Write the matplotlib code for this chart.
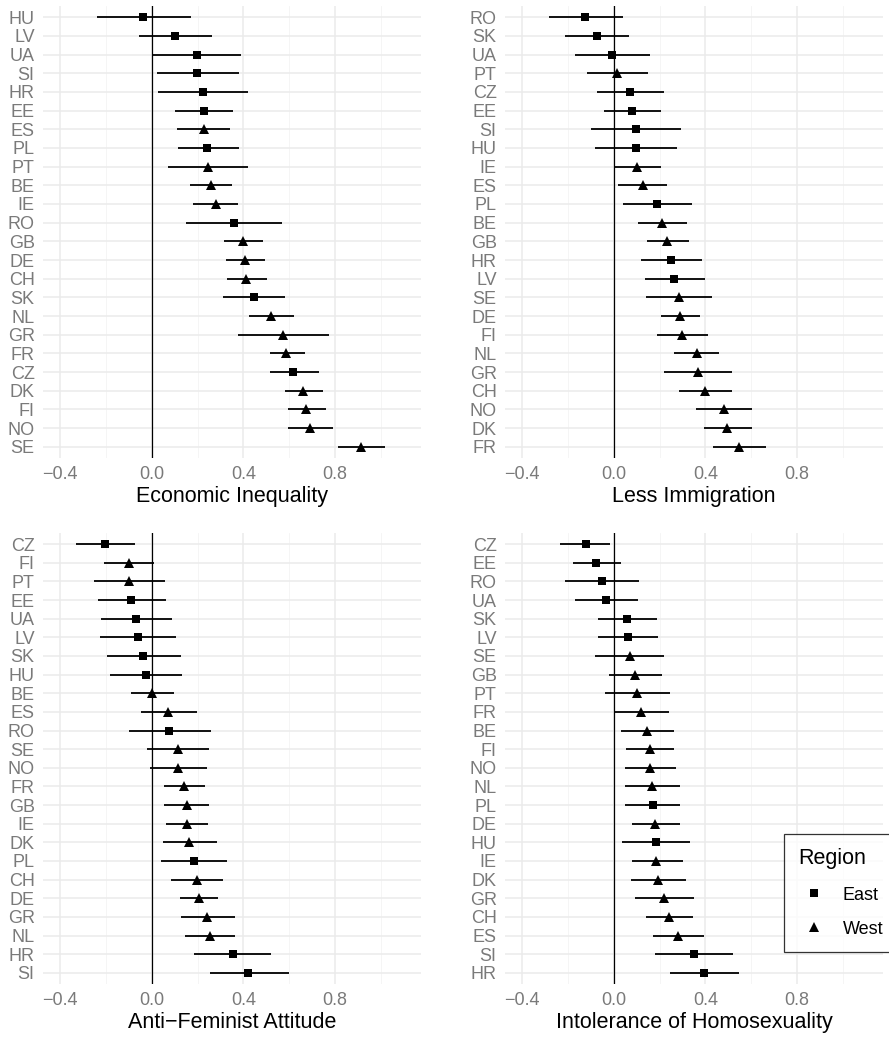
import matplotlib
matplotlib.use("Agg")
import matplotlib.pyplot as plt
from matplotlib.lines import Line2D
from matplotlib.ticker import MultipleLocator

plt.rcParams['font.family'] = ['Liberation Sans', 'DejaVu Sans']

EAST = ["HU", "LV", "UA", "SI", "HR", "EE", "PL", "RO", "SK", "CZ"]

# Panel 1: Economic Inequality
econ_countries = ["HU", "LV", "UA", "SI", "HR", "EE", "ES", "PL", "PT", "BE", "IE", "RO",
                  "GB", "DE", "CH", "SK", "NL", "GR", "FR", "CZ", "DK", "FI", "NO", "SE"]
econ_est = [-0.038, 0.100, 0.197, 0.197, 0.222, 0.228, 0.226, 0.243, 0.246, 0.257, 0.278, 0.358,
            0.400, 0.406, 0.412, 0.445, 0.520, 0.572, 0.587, 0.617, 0.662, 0.674, 0.690, 0.912]
econ_lo = [-0.241, -0.058, 0.006, 0.022, 0.026, 0.103, 0.112, 0.113, 0.072, 0.168, 0.181, 0.151,
           0.316, 0.325, 0.328, 0.312, 0.423, 0.377, 0.514, 0.514, 0.581, 0.594, 0.594, 0.812]
econ_hi = [0.170, 0.264, 0.390, 0.380, 0.420, 0.354, 0.343, 0.381, 0.422, 0.352, 0.378, 0.567,
           0.486, 0.494, 0.504, 0.580, 0.620, 0.774, 0.667, 0.729, 0.748, 0.759, 0.791, 1.016]

# Panel 2: Less Immigration
immi_countries = ["RO", "SK", "UA", "PT", "CZ", "EE", "SI", "HU", "IE", "ES", "PL", "BE",
                  "GB", "HR", "LV", "SE", "DE", "FI", "NL", "GR", "CH", "NO", "DK", "FR"]
immi_est = [-0.127, -0.074, -0.009, 0.015, 0.070, 0.079, 0.096, 0.096, 0.103, 0.127, 0.188, 0.209,
            0.234, 0.249, 0.262, 0.285, 0.289, 0.298, 0.361, 0.368, 0.399, 0.479, 0.496, 0.547]
immi_lo = [-0.282, -0.212, -0.169, -0.116, -0.073, -0.042, -0.100, -0.081, 0.006, 0.019, 0.038, 0.106,
           0.145, 0.119, 0.135, 0.141, 0.204, 0.189, 0.263, 0.218, 0.285, 0.359, 0.393, 0.433]
immi_hi = [0.038, 0.067, 0.159, 0.150, 0.217, 0.205, 0.292, 0.276, 0.204, 0.234, 0.340, 0.319,
           0.327, 0.387, 0.396, 0.429, 0.377, 0.413, 0.461, 0.518, 0.518, 0.602, 0.604, 0.666]

# Panel 3: Anti-Feminist Attitude
fem_countries = ["CZ", "FI", "PT", "EE", "UA", "LV", "SK", "HU", "BE", "ES", "RO", "SE",
                 "NO", "FR", "GB", "IE", "DK", "PL", "CH", "DE", "GR", "NL", "HR", "SI"]
fem_est = [-0.203, -0.101, -0.100, -0.090, -0.068, -0.059, -0.038, -0.025, 0.000, 0.072, 0.075, 0.114,
           0.114, 0.139, 0.152, 0.155, 0.164, 0.183, 0.197, 0.204, 0.242, 0.254, 0.354, 0.422]
fem_lo = [-0.332, -0.210, -0.254, -0.236, -0.223, -0.225, -0.196, -0.181, -0.093, -0.049, -0.101, -0.019,
          -0.006, 0.051, 0.055, 0.062, 0.048, 0.039, 0.084, 0.123, 0.128, 0.145, 0.186, 0.255]
fem_hi = [-0.074, 0.010, 0.058, 0.062, 0.090, 0.104, 0.126, 0.133, 0.096, 0.196, 0.257, 0.249,
          0.239, 0.232, 0.249, 0.245, 0.283, 0.330, 0.309, 0.288, 0.361, 0.365, 0.520, 0.597]

# Panel 4: Intolerance of Homosexuality
homo_countries = ["CZ", "EE", "RO", "UA", "SK", "LV", "SE", "GB", "PT", "FR", "BE", "FI",
                  "NO", "NL", "PL", "DE", "HU", "IE", "DK", "GR", "CH", "ES", "SI", "HR"]
homo_est = [-0.122, -0.076, -0.052, -0.035, 0.057, 0.061, 0.070, 0.092, 0.102, 0.119, 0.144, 0.157,
            0.159, 0.167, 0.170, 0.179, 0.183, 0.186, 0.195, 0.218, 0.241, 0.281, 0.348, 0.393]
homo_lo = [-0.233, -0.176, -0.211, -0.169, -0.068, -0.071, -0.080, -0.020, -0.038, 0.000, 0.033, 0.052,
           0.048, 0.049, 0.049, 0.079, 0.036, 0.079, 0.076, 0.092, 0.141, 0.169, 0.180, 0.247]
homo_hi = [-0.015, 0.031, 0.108, 0.105, 0.189, 0.195, 0.221, 0.211, 0.246, 0.241, 0.262, 0.263,
           0.272, 0.288, 0.291, 0.287, 0.333, 0.301, 0.313, 0.351, 0.346, 0.394, 0.519, 0.547]

W, H = 889, 1040
fig = plt.figure(figsize=(W / 100, H / 100), dpi=100)

TICK_COLOR = "#7a7a7a"
GRID_MAJOR = "#ebebeb"
GRID_MINOR = "#f4f4f4"


def make_axes(x0, x1, y0, y1):
    return fig.add_axes([x0 / W, 1 - y1 / H, (x1 - x0) / W, (y1 - y0) / H])


def draw_panel(ax, countries, est, lo, hi, title):
    n = len(countries)
    ys = list(range(n))
    ax.set_xlim(-0.475, 1.175)
    ax.set_ylim(n - 1 + 0.6, -0.6)
    ax.xaxis.set_minor_locator(MultipleLocator(0.2))
    ax.set_yticks(ys)
    ax.set_yticklabels(countries)
    ax.set_xticks([-0.4, 0.0, 0.4, 0.8])
    ax.set_xticklabels(["\u22120.4", "0.0", "0.4", "0.8"])
    ax.grid(True, which="major", color=GRID_MAJOR, linewidth=1.1, zorder=0)
    ax.grid(True, which="minor", axis="x", color=GRID_MINOR, linewidth=0.6, zorder=0)
    ax.set_axisbelow(True)
    for s in ax.spines.values():
        s.set_visible(False)
    ax.tick_params(axis="both", which="both", length=0, labelsize=13, labelcolor=TICK_COLOR)
    ax.tick_params(axis="x", pad=6)
    ax.tick_params(axis="y", pad=6)
    ax.axvline(0, color="black", linewidth=0.9, zorder=2)
    for i, c in enumerate(countries):
        ax.plot([lo[i], hi[i]], [i, i], color="black", linewidth=1.3, solid_capstyle="butt", zorder=3)
        if c in EAST:
            ax.plot(est[i], i, marker="s", markersize=5.3, color="black", markeredgewidth=0, zorder=4)
        else:
            ax.plot(est[i], i, marker="^", markersize=6.6, color="black", markeredgewidth=0, zorder=4)
    ax.set_xlabel(title, fontsize=15.5, color="black", labelpad=2)


ax1 = make_axes(43, 421, 6, 458)
draw_panel(ax1, econ_countries, econ_est, econ_lo, econ_hi, "Economic Inequality")
ax2 = make_axes(505, 883, 6, 458)
draw_panel(ax2, immi_countries, immi_est, immi_lo, immi_hi, "Less Immigration")
ax3 = make_axes(43, 421, 533, 984)
draw_panel(ax3, fem_countries, fem_est, fem_lo, fem_hi, "Anti\u2212Feminist Attitude")
ax4 = make_axes(505, 883, 533, 984)
draw_panel(ax4, homo_countries, homo_est, homo_lo, homo_hi, "Intolerance of Homosexuality")

handles = [
    Line2D([], [], linestyle="none", marker="s", markersize=5.3, color="black", markeredgewidth=0),
    Line2D([], [], linestyle="none", marker="^", markersize=6.6, color="black", markeredgewidth=0),
]
leg = fig.legend(handles, ["East", "West"], title="Region", loc="upper left",
                 bbox_to_anchor=(784 / W, 1 - 834 / H), frameon=True, fancybox=False,
                 fontsize=13, title_fontsize=15.5, handlelength=1.7, handletextpad=0.75,
                 labelspacing=0.95, borderpad=0.8, borderaxespad=0, alignment="left")
leg.get_frame().set_edgecolor("black")
leg.get_frame().set_linewidth(0.9)
leg.get_frame().set_facecolor("white")

fig.savefig("out.png", dpi=100)
